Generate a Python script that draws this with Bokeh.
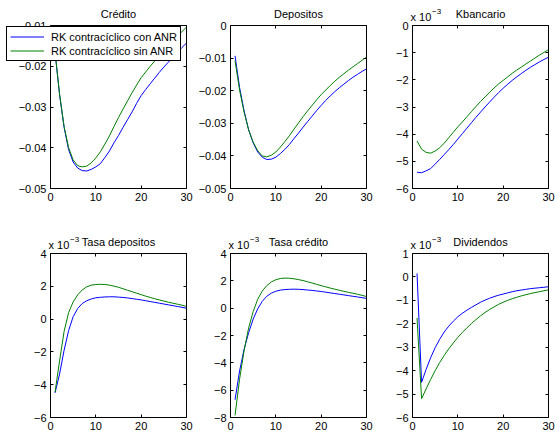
from bokeh.plotting import figure
from bokeh.models import (Range1d, FixedTicker, LinearAxis, Label, Legend,
                          LegendItem, CustomJSTickFormatter)
from bokeh.layouts import column, row
from bokeh.embed import file_html
from bokeh.resources import INLINE

# ---------------- data ----------------
t = list(range(1, 31))

credito_con = [-0.0165, -0.0270, -0.0350, -0.0405, -0.0435, -0.0450, -0.0456, -0.0457, -0.0453, -0.0447,
               -0.0439, -0.0424, -0.0408, -0.0388, -0.0370, -0.0350, -0.0331, -0.0312, -0.0291, -0.0272,
               -0.0257, -0.0243, -0.0229, -0.0215, -0.0202, -0.0190, -0.0178, -0.0166, -0.0154, -0.0143]
credito_sin = [-0.0165, -0.0268, -0.0348, -0.0400, -0.0430, -0.0444, -0.0447, -0.0445, -0.0437, -0.0425,
               -0.0410, -0.0391, -0.0371, -0.0348, -0.0326, -0.0305, -0.0285, -0.0265, -0.0246, -0.0228,
               -0.0214, -0.0200, -0.0187, -0.0174, -0.0161, -0.0149, -0.0137, -0.0126, -0.0115, -0.0104]

depositos_con = [-0.0093, -0.0190, -0.0262, -0.0320, -0.0360, -0.0388, -0.0404, -0.0411, -0.0410, -0.0404,
                 -0.0393, -0.0380, -0.0365, -0.0347, -0.0330, -0.0312, -0.0295, -0.0278, -0.0261, -0.0245,
                 -0.0230, -0.0216, -0.0203, -0.0191, -0.0180, -0.0169, -0.0159, -0.0150, -0.0141, -0.0133]
depositos_sin = [-0.0108, -0.0198, -0.0266, -0.0320, -0.0358, -0.0384, -0.0400, -0.0403, -0.0398, -0.0388,
                 -0.0373, -0.0356, -0.0338, -0.0318, -0.0299, -0.0280, -0.0262, -0.0245, -0.0228, -0.0212,
                 -0.0198, -0.0184, -0.0171, -0.0159, -0.0148, -0.0137, -0.0127, -0.0117, -0.0107, -0.0097]

# values below are in units of 1e-3
kbancario_con = [-5.40, -5.42, -5.35, -5.27, -5.10, -4.93, -4.75, -4.57, -4.38, -4.18,
                 -3.98, -3.78, -3.58, -3.38, -3.19, -3.00, -2.82, -2.64, -2.47, -2.31,
                 -2.16, -2.02, -1.89, -1.77, -1.65, -1.54, -1.44, -1.34, -1.25, -1.17]
kbancario_sin = [-4.25, -4.55, -4.67, -4.70, -4.62, -4.50, -4.33, -4.13, -3.93, -3.73,
                 -3.55, -3.36, -3.17, -2.98, -2.80, -2.63, -2.46, -2.30, -2.15, -2.02,
                 -1.89, -1.76, -1.64, -1.53, -1.42, -1.31, -1.20, -1.09, -0.99, -0.89]

tasa_dep_con = [-4.50, -3.35, -1.90, -0.70, 0.15, 0.65, 0.95, 1.12, 1.23, 1.30,
                1.33, 1.35, 1.36, 1.36, 1.34, 1.32, 1.29, 1.25, 1.21, 1.17,
                1.12, 1.07, 1.02, 0.97, 0.92, 0.87, 0.82, 0.77, 0.72, 0.66]
tasa_dep_sin = [-4.45, -2.55, -0.75, 0.40, 1.05, 1.48, 1.78, 1.97, 2.07, 2.11,
                2.12, 2.11, 2.07, 2.01, 1.94, 1.85, 1.76, 1.67, 1.58, 1.49,
                1.40, 1.32, 1.24, 1.17, 1.10, 1.03, 0.97, 0.91, 0.85, 0.77]

tasa_cred_con = [-6.70, -4.60, -3.00, -1.80, -0.80, -0.05, 0.50, 0.87, 1.10, 1.24,
                 1.32, 1.36, 1.38, 1.39, 1.38, 1.36, 1.33, 1.30, 1.26, 1.22,
                 1.17, 1.12, 1.07, 1.02, 0.97, 0.92, 0.87, 0.82, 0.77, 0.71]
tasa_cred_sin = [-7.85, -5.20, -3.10, -1.45, -0.25, 0.65, 1.25, 1.65, 1.92, 2.08,
                 2.17, 2.20, 2.19, 2.15, 2.09, 2.02, 1.93, 1.84, 1.74, 1.65,
                 1.56, 1.47, 1.39, 1.31, 1.23, 1.16, 1.09, 1.02, 0.94, 0.85]

dividendos_con = [0.15, -4.50, -3.95, -3.45, -3.02, -2.66, -2.35, -2.10, -1.89, -1.70,
                  -1.55, -1.42, -1.30, -1.19, -1.08, -0.99, -0.91, -0.84, -0.78, -0.73,
                  -0.68, -0.63, -0.59, -0.56, -0.53, -0.50, -0.48, -0.46, -0.44, -0.42]
dividendos_sin = [-1.75, -5.20, -4.78, -4.38, -4.00, -3.65, -3.35, -3.07, -2.82, -2.58,
                  -2.37, -2.17, -1.99, -1.82, -1.66, -1.52, -1.39, -1.28, -1.17, -1.08,
                  -1.00, -0.93, -0.87, -0.81, -0.76, -0.71, -0.67, -0.63, -0.59, -0.55]

titles = ["Crédito", "Depositos", "Kbancario", "Tasa depositos", "Tasa crédito", "Dividendos"]
legend_labels = ["RK contracíclico con ANR", "RK contracíclico sin ANR"]
x_ticks = [0, 10, 20, 30]
X_MIN, X_MAX = 0, 30

# ---------------- layout geometry (pixels) ----------------
COLS = [(0, 195, 50, 186), (195, 385, 230, 366), (385, 555, 412, 548)]   # canvas x0,x1, box x0,x1
ROWS = [(0, 220, 25, 188), (220, 432, 253, 417)]                         # canvas y0,y1, box y0,y1

# ---------------- style ----------------
FONT = "Liberation Sans"
BLUE = "#0000FF"
GREEN = "#008000"

fmt = CustomJSTickFormatter(code="""
var v = Math.round(tick*1000)/1000;
if (Math.abs(v) < 1e-9) return "0";
var s = Number.isInteger(v) ? v.toString() : v.toFixed(2);
return s.replace("-", "\\u2212");
""")
empty_fmt = CustomJSTickFormatter(code="return '';")


def style_axis(ax, ticks, bounds, loc, labels=True):
    ax.ticker = FixedTicker(ticks=ticks)
    ax.bounds = bounds
    ax.fixed_location = loc
    ax.axis_line_color = "black"
    ax.axis_line_width = 1
    ax.major_tick_line_color = "black"
    ax.major_tick_in = 3
    ax.major_tick_out = 0
    ax.minor_tick_line_color = None
    if labels:
        ax.formatter = fmt
        ax.major_label_text_font = FONT
        ax.major_label_text_font_size = "11px"
        ax.major_label_text_color = "black"
        ax.major_label_standoff = 4
    else:
        ax.formatter = empty_fmt
        ax.major_label_text_color = None
        ax.major_label_text_font_size = "1px"
        ax.major_label_standoff = 0


def panel(ci, ri, title, y0, y1, yticks, con, sin, mult=False, legend=False):
    cx0, cx1, bx0, bx1 = COLS[ci]
    cy0, cy1, by0, by1 = ROWS[ri]
    w, h = cx1 - cx0, cy1 - cy0
    # extend the ranges so that the axes box lands on its pixel position
    xs = (X_MAX - X_MIN) / (bx1 - bx0)
    ys = (y1 - y0) / (by1 - by0)
    xr = Range1d(X_MIN - (bx0 - cx0) * xs, X_MAX + (cx1 - bx1) * xs)
    yr = Range1d(y0 - (cy1 - by1) * ys, y1 + (by0 - cy0) * ys)
    p = figure(width=w, height=h, x_range=xr, y_range=yr,
               output_backend="svg", toolbar_location=None,
               min_border_left=0, min_border_right=0, min_border_top=0, min_border_bottom=0)
    p.background_fill_color = "white"
    p.border_fill_color = "white"
    p.outline_line_color = None
    p.grid.visible = False
    r1 = p.line(t, con, line_color=BLUE, line_width=1)
    r2 = p.line(t, sin, line_color=GREEN, line_width=1)

    style_axis(p.xaxis[0], x_ticks, (X_MIN, X_MAX), y0)
    style_axis(p.yaxis[0], yticks, (y0, y1), X_MIN)
    top = LinearAxis()
    style_axis(top, x_ticks, (X_MIN, X_MAX), y1, labels=False)
    p.add_layout(top, "above")
    right = LinearAxis()
    style_axis(right, yticks, (y0, y1), X_MAX, labels=False)
    p.add_layout(right, "right")

    p.add_layout(Label(x=(X_MIN + X_MAX) / 2, y=y1, text=title, text_align="center",
                       text_baseline="middle", y_offset=12, text_font=FONT,
                       text_font_size="11px", text_color="black"))
    if mult:
        p.add_layout(Label(x=X_MIN, y=y1, text="x 10", text_align="left", text_baseline="middle",
                           x_offset=-2, y_offset=9, text_font=FONT, text_font_size="11px",
                           text_color="black"))
        p.add_layout(Label(x=X_MIN, y=y1, text="\u22123", text_align="left", text_baseline="middle",
                           x_offset=19.5, y_offset=14, text_font=FONT, text_font_size="8px",
                           text_color="black"))
    if legend:
        lg = Legend(items=[LegendItem(label=legend_labels[0], renderers=[r1]),
                           LegendItem(label=legend_labels[1], renderers=[r2])],
                    location=(6, cy1 - 61))
        lg.border_line_color = "black"
        lg.border_line_width = 1
        lg.border_line_alpha = 1.0
        lg.background_fill_color = "white"
        lg.background_fill_alpha = 1.0
        lg.label_text_font = FONT
        lg.label_text_font_size = "11px"
        lg.label_text_color = "black"
        lg.glyph_width = 34
        lg.glyph_height = 13
        lg.label_height = 13
        lg.label_standoff = 7
        lg.padding = 3
        lg.spacing = 1
        lg.margin = 0
        p.add_layout(lg)
    return p


p1 = panel(0, 0, titles[0], -0.05, -0.01, [-0.05, -0.04, -0.03, -0.02, -0.01],
           credito_con, credito_sin, legend=True)
p2 = panel(1, 0, titles[1], -0.05, 0.0, [-0.05, -0.04, -0.03, -0.02, -0.01, 0.0],
           depositos_con, depositos_sin)
p3 = panel(2, 0, titles[2], -6, 0, [-6, -5, -4, -3, -2, -1, 0],
           kbancario_con, kbancario_sin, mult=True)
p4 = panel(0, 1, titles[3], -6, 4, [-6, -4, -2, 0, 2, 4],
           tasa_dep_con, tasa_dep_sin, mult=True)
p5 = panel(1, 1, titles[4], -8, 4, [-8, -6, -4, -2, 0, 2, 4],
           tasa_cred_con, tasa_cred_sin, mult=True)
p6 = panel(2, 1, titles[5], -6, 1, [-6, -5, -4, -3, -2, -1, 0, 1],
           dividendos_con, dividendos_sin, mult=True)

layout = column(row(p1, p2, p3), row(p4, p5, p6))
open("out.html", "w").write(file_html(layout, INLINE))
